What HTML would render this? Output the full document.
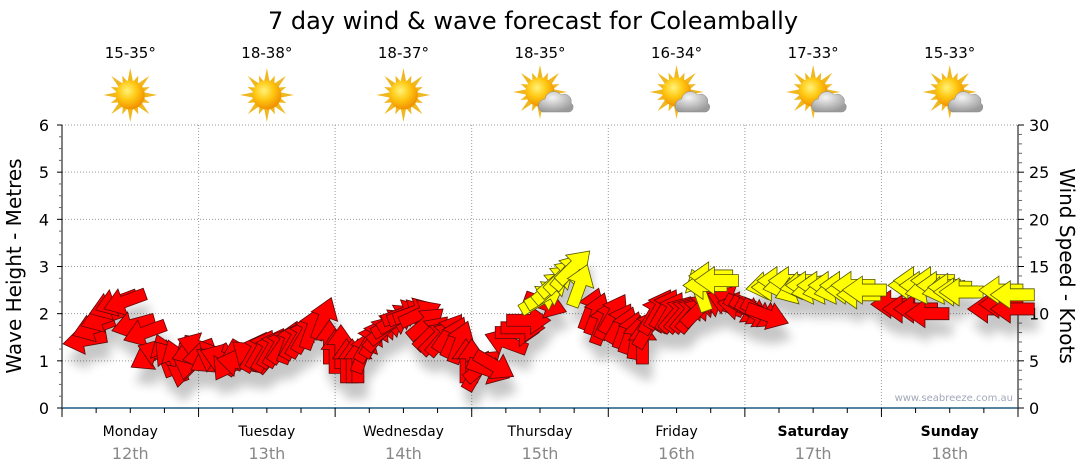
<!DOCTYPE html>
<html><head><meta charset="utf-8">
<style>
html,body{margin:0;padding:0;background:#fff;}
svg{display:block;font-family:"DejaVu Sans","Liberation Sans",Verdana,sans-serif;}
</style></head>
<body>
<svg id="chart" width="1080" height="475" viewBox="0 0 1080 475" xmlns="http://www.w3.org/2000/svg">
<defs>
<radialGradient id="sunG" cx="40%" cy="35%" r="65%">
<stop offset="0" stop-color="#fff27a"/><stop offset="0.5" stop-color="#ffc812"/><stop offset="1" stop-color="#f09000"/>
</radialGradient>
<radialGradient id="cloudG" cx="40%" cy="30%" r="70%">
<stop offset="0" stop-color="#f4f4f4"/><stop offset="1" stop-color="#9a9a9a"/>
</radialGradient>
<filter id="shadow" x="-50%" y="-50%" width="200%" height="200%"><feGaussianBlur stdDeviation="5"/></filter>
</defs>
<text x="533" y="29" font-size="24" text-anchor="middle" fill="#000">7 day wind &amp; wave forecast for Coleambally</text>
<g id="weather"></g>
<g id="grid"></g>
<g id="axes"></g>
<g id="shadows" filter="url(#shadow)" opacity="0.22"></g>
<g id="marks"></g>
<text x="1013" y="401" font-size="10" fill="#a0a8b8" text-anchor="end">www.seabreeze.com.au</text>
<text transform="translate(21,266) rotate(-90)" font-size="20" text-anchor="middle">Wave Height - Metres</text>
<text transform="translate(1060,266) rotate(90)" font-size="20" text-anchor="middle">Wind Speed - Knots</text>
</svg>
<script>
const days = ["Monday","Tuesday","Wednesday","Thursday","Friday","Saturday","Sunday"];
const dates = ["12th","13th","14th","15th","16th","17th","18th"];
const temps = ["15-35°","18-38°","18-37°","18-35°","16-34°","17-33°","15-33°"];
const cloudy = [false,false,false,true,true,true,true];
const waveTicks = [0,1,2,3,4,5,6];
const knotTicks = [0,5,10,15,20,25,30];
// wind (red): hour from Mon 00:00, knots, direction pointed (screen deg, 0=right,90=down)
const windHours = [4,5.5,7,8.5,9.5,11,12.5,14.5,15.5,17,18,19,20,21,22,23,24,
25,26,27,28,29,31,33,34,35,36,37,38,39,40,41,42,43,44,46,47,
48,49,50,51,52,53,54,55,56,57,58,59,60,61,62,63,64,65,66,67,68,69,70,71,
72,73,74,75,76,78,80,81,82,85,93,94,95,96,
97,98,99,100,101,102,103,104,105,106,107,108,109,110,111,112,
115,116,117,118,119,120,121,122,123,124,146,148,150,152,163,165,167];
const windKnots = [7.2,8.5,9.5,10.8,11.2,11.3,8.8,8,5.5,5.8,5.6,5.2,5,4.5,5.3,6,6.5,
5.5,5.2,5,5.3,5,4.8,5.5,6,6.2,6,6.4,6.5,6.8,7,7.3,7.5,8,8.5,9.5,7,
6,6.5,5,5,5,6,7,7.5,8,8.5,9,9.5,10,10,10.2,10,9,8,7.5,7.5,8,7.5,7,5,
5,4,4.5,4,4.5,7,8,8.5,9.3,11,10.5,10,9,9.5,
10,9,8.5,8,7.5,7,8.5,10,10.5,10.5,10.2,10,10,10,10,10.5,
11.3,11,11.3,11.5,10.8,10.5,10.3,10,10,9.8,11,10.5,10.5,10,10.5,11,10.5];
const windDirs = [170,160,160,160,160,160,165,160,150,200,250,230,250,100,100,160,200,
170,150,210,200,120,190,220,300,300,300,300,300,305,290,300,300,300,290,290,270,
270,270,270,270,270,290,300,300,310,320,330,330,340,340,340,335,320,315,315,310,305,295,290,270,
270,300,320,20,30,200,0,0,0,20,290,290,290,295,
300,300,290,290,280,270,300,300,300,300,300,310,310,310,310,315,
200,200,200,200,190,30,30,30,30,20,180,180,180,180,180,180,180];
// gust (yellow)
const gustHours = [84,85,86,87,88,89,90,91,112,113,114,115,
124,125,126,127,128,129,130,131,132,133,134,135,136,137,138,139,140,141,
149,150,151,152,153,154,155,156,157,158,165,167];
const gustKnots = [11.5,12,12.8,13.5,14,14.5,15,13,12.5,13,14,13.5,
13,12.8,13.5,13,13.5,12.5,13,13,12.5,13,12.5,13,12.5,13,12.5,13,12,12.5,
13,13.5,13,12.5,13.5,13,12.5,12.8,12.3,12.3,12.5,12];
const gustDirs = [330,330,320,320,315,310,315,290,250,180,180,180,
170,180,180,170,180,160,170,180,170,180,170,180,170,180,180,180,180,180,
180,180,180,170,180,180,170,180,180,180,180,180];

const X0=62, X1=1018, Y0=408, Y1=125;
const xScale = h => X0 + h*(X1-X0)/168;
const yWave = m => Y0 - m*(Y0-Y1)/6;
const yKnot = k => Y0 - k*(Y0-Y1)/30;
const NS="http://www.w3.org/2000/svg";
function mk(tag, attrs, parent){const e=document.createElementNS(NS,tag);for(const k in attrs)e.setAttribute(k,attrs[k]);parent.appendChild(e);return e;}
const grid=document.getElementById('grid'), axes=document.getElementById('axes'), weather=document.getElementById('weather');
const marks=document.getElementById('marks'), shadows=document.getElementById('shadows');

for(let i=1;i<7;i++){const g=mk('line',{x1:X0,x2:X1,y1:yWave(i),y2:yWave(i),stroke:'#999','stroke-dasharray':'1,2','stroke-width':1},grid);
}
for(let d=1;d<7;d++){const x=xScale(d*24);const g=mk('line',{x1:x,x2:x,y1:Y1,y2:Y0,stroke:'#999','stroke-dasharray':'1,2','stroke-width':1},grid);
}

let a=mk('line',{x1:X0,x2:X0,y1:Y1,y2:Y0+7,stroke:'#000'},axes);

for(let m=0;m<=24;m++){const y=yWave(m/4);const major=m%4===0;mk('line',{x1:X0-(major?5:3),x2:X0,y1:y,y2:y,stroke:major?'#000':'#666'},axes);}
waveTicks.forEach(v=>{const t=mk('text',{x:X0-13,y:yWave(v)+6,'font-size':16,'text-anchor':'end'},axes);t.textContent=v;
});
a=mk('line',{x1:X1,x2:X1,y1:Y1,y2:Y0,stroke:'#000'},axes);

for(let k=0;k<=30;k++){const y=yKnot(k);const major=k%5===0;mk('line',{x1:X1,x2:X1+(major?6:4),y1:y,y2:y,stroke:major?'#000':'#666'},axes);}
knotTicks.forEach(v=>{const t=mk('text',{x:X1+11,y:yKnot(v)+6,'font-size':16},axes);t.textContent=v;
});
a=mk('line',{x1:X0,x2:X1,y1:Y0,y2:Y0,stroke:'#1f5a80','stroke-width':1.5},axes);

for(let h=0;h<=168;h+=6){const x=xScale(h);mk('line',{x1:x,x2:x,y1:Y0,y2:Y0+(h%24===0?9:5),stroke:'#000'},axes);}
days.forEach((d,i)=>{const cx=xScale(i*24+12);const bold=i>=5;
const t=mk('text',{x:cx,y:436,'font-size':14,'text-anchor':'middle','font-weight':bold?'bold':'normal'},axes);t.textContent=d;

const t2=mk('text',{x:cx,y:459,'font-size':16,'text-anchor':'middle',fill:'#888'},axes);t2.textContent=dates[i];

const t3=mk('text',{x:cx,y:58,'font-size':15,'text-anchor':'middle'},weather);t3.textContent=temps[i];

const g=mk('g',{transform:`translate(${cx},${cloudy[i]?92:95})`},weather);

for(let r=0;r<16;r++){const ang=r*22.5*Math.PI/180;const L=(r%2===0)?27:21;
const px=Math.cos(ang),py=Math.sin(ang),qx=-py,qy=px;
mk('polygon',{points:`${px*L},${py*L} ${px*12+qx*3},${py*12+qy*3} ${px*12-qx*3},${py*12-qy*3}`,fill:'#f0b820'},g);}
mk('circle',{cx:0,cy:0,r:14.5,fill:'url(#sunG)'},g);
if(cloudy[i]){mk('path',{d:'M2,20 a7,7 0 0 1 3,-13 a9,9 0 0 1 16,-4 a7,7 0 0 1 10,8 a5,5 0 0 1 -2,9 z',fill:'url(#cloudG)',stroke:'#888','stroke-width':0.5},g);}
});

function arrow(h,k,dir,color,stroke,name){
const cx=xScale(h), cy=yKnot(k);
const pts="-22,-6 2,-6 2,-14 22,0 2,14 2,6 -22,6";
mk('polygon',{points:pts,fill:'#000',transform:`translate(${cx+4},${cy+16}) rotate(${dir})`},shadows);
const p=mk('polygon',{points:pts,fill:color,stroke:stroke,'stroke-width':0.8,transform:`translate(${cx},${cy}) rotate(${dir})`},marks);


}
windHours.forEach((h,i)=>arrow(h,windKnots[i],windDirs[i],'#ff0000','#5a0a0a','wind-arrow'));
gustHours.forEach((h,i)=>arrow(h,gustKnots[i],gustDirs[i],'#ffff00','#555500','gust-arrow'));
</script>
</body></html>
